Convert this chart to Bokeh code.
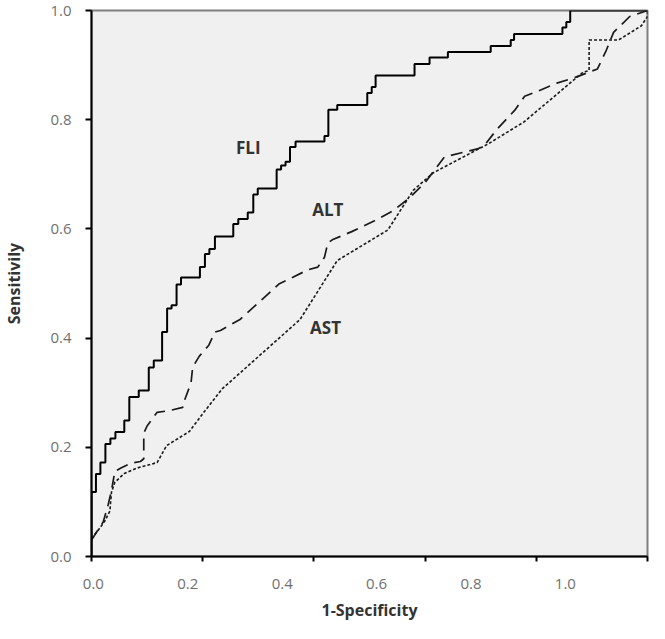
from bokeh.plotting import figure
from bokeh.models import LinearAxis, Range1d, FixedTicker, NumeralTickFormatter
from bokeh.core.properties import value
from bokeh.embed import file_html
from bokeh.resources import INLINE

# ---- data ----
fli_fpr = [0.000, 0.000, 0.008, 0.016, 0.025, 0.034, 0.043, 0.059, 0.068, 0.085, 0.103,
           0.112, 0.127, 0.136, 0.144, 0.153, 0.161, 0.195, 0.204, 0.212, 0.222, 0.255,
           0.264, 0.281, 0.291, 0.299, 0.333, 0.341, 0.349, 0.357, 0.367, 0.419, 0.426,
           0.442, 0.496, 0.504, 0.511, 0.581, 0.608, 0.641, 0.718, 0.754, 0.760, 0.847,
           0.854, 0.861, 1.000]
fli_tpr = [0.000, 0.118, 0.151, 0.172, 0.206, 0.216, 0.228, 0.249, 0.292, 0.304, 0.346,
           0.359, 0.411, 0.454, 0.460, 0.498, 0.511, 0.530, 0.554, 0.563, 0.586, 0.609,
           0.618, 0.630, 0.663, 0.674, 0.709, 0.716, 0.723, 0.750, 0.760, 0.770, 0.818,
           0.827, 0.849, 0.860, 0.881, 0.902, 0.914, 0.924, 0.935, 0.946, 0.957, 0.969,
           0.979, 1.000, 1.000]

alt_fpr = [0.000, 0.015, 0.021, 0.030, 0.036, 0.042, 0.053, 0.071, 0.088, 0.094, 0.094,
           0.100, 0.118, 0.139, 0.164, 0.168, 0.179, 0.182, 0.194, 0.211, 0.222, 0.232,
           0.267, 0.308, 0.337, 0.389, 0.407, 0.419, 0.425, 0.433, 0.468, 0.509, 0.542,
           0.571, 0.600, 0.635, 0.696, 0.709, 0.729, 0.761, 0.779, 0.802, 0.837, 0.869,
           0.910, 0.925, 0.939, 0.968, 1.000]
alt_tpr = [0.030, 0.054, 0.063, 0.095, 0.121, 0.156, 0.162, 0.171, 0.174, 0.179, 0.226,
           0.239, 0.264, 0.267, 0.273, 0.288, 0.318, 0.347, 0.367, 0.387, 0.411, 0.414,
           0.434, 0.472, 0.499, 0.525, 0.530, 0.548, 0.574, 0.580, 0.595, 0.615, 0.633,
           0.656, 0.685, 0.732, 0.747, 0.756, 0.782, 0.817, 0.843, 0.852, 0.867, 0.877,
           0.893, 0.925, 0.960, 0.989, 1.000]

ast_fpr = [0.000, 0.012, 0.024, 0.033, 0.036, 0.042, 0.059, 0.082, 0.118, 0.135, 0.176,
           0.202, 0.235, 0.375, 0.442, 0.533, 0.579, 0.615, 0.714, 0.778, 0.884, 0.895,
           0.895, 0.948, 0.989, 1.000, 1.000]
ast_tpr = [0.033, 0.048, 0.065, 0.083, 0.118, 0.136, 0.152, 0.162, 0.172, 0.203, 0.229,
           0.264, 0.307, 0.434, 0.542, 0.598, 0.671, 0.703, 0.756, 0.796, 0.887, 0.890,
           0.946, 0.946, 0.972, 0.989, 1.000]

curve_names = ["FLI", "ALT", "AST"]
name_x = [0.282, 0.425, 0.421]
name_y = [0.749, 0.635, 0.419]

tick_vals = [0.0, 0.2, 0.4, 0.6, 0.8, 1.0]

# ---- figure ----
p = figure(width=649, height=623,
           x_range=Range1d(0, 1), y_range=Range1d(0, 1),
           x_axis_location=None, y_axis_location="left",
           output_backend="svg", toolbar_location=None,
           min_border_left=85, min_border_right=2, min_border_top=10, min_border_bottom=10)
p.extra_x_ranges = {"lab": Range1d(-0.004, 1.174)}
p.background_fill_color = "#f0f0f0"
p.border_fill_color = "white"
p.outline_line_color = "#7f7f7f"
p.outline_line_width = 2
p.grid.visible = False

LABEL_FONT = "Open Sans"
TICK_COLOR = "#707070"
TITLE_COLOR = "#333333"

# y axis
ya = p.yaxis[0]
ya.ticker = FixedTicker(ticks=tick_vals)
ya.formatter = NumeralTickFormatter(format="0.0")
ya.axis_line_color = "black"
ya.axis_line_width = 2
ya.major_tick_line_color = "black"
ya.major_tick_line_width = 2
ya.major_tick_out = 6
ya.major_tick_in = 0
ya.minor_tick_line_color = None
ya.major_label_standoff = 14
ya.major_label_text_font = LABEL_FONT
ya.major_label_text_font_size = "15px"
ya.major_label_text_color = TICK_COLOR
ya.axis_label = "Sensitivily"
ya.axis_label_text_font = LABEL_FONT
ya.axis_label_text_font_size = "16px"
ya.axis_label_text_font_style = "bold"
ya.axis_label_text_color = TITLE_COLOR
ya.axis_label_standoff = 22

# x axis: tick marks (true scale)
xt = LinearAxis(ticker=FixedTicker(ticks=tick_vals),
                axis_line_color="black", axis_line_width=2,
                major_tick_line_color="black", major_tick_line_width=2,
                major_tick_out=5, major_tick_in=0,
                minor_tick_line_color=None,
                major_label_text_font_size="1px", major_label_text_alpha=0,
                major_label_standoff=0)
p.add_layout(xt, "below")

# x axis: tick labels (as printed in the original, compressed spacing)
xl = LinearAxis(x_range_name="lab", ticker=FixedTicker(ticks=tick_vals),
                formatter=NumeralTickFormatter(format="0.0"),
                axis_line_color=None, major_tick_line_color=None,
                major_tick_out=0, major_tick_in=0, minor_tick_line_color=None,
                major_label_standoff=17,
                major_label_text_font=LABEL_FONT, major_label_text_font_size="15px",
                major_label_text_color=TICK_COLOR,
                axis_label="1-Specificity", axis_label_text_font=LABEL_FONT,
                axis_label_text_font_size="16px", axis_label_text_font_style="bold",
                axis_label_text_color=TITLE_COLOR, axis_label_standoff=7)
p.add_layout(xl, "below")

# curves
p.step(fli_fpr, fli_tpr, mode="after", line_color="black", line_width=2)
p.line(alt_fpr, alt_tpr, line_color="#1a1a1a", line_width=1.7, line_dash="12 7")
p.line(ast_fpr, ast_tpr, line_color="#1a1a1a", line_width=1.6, line_dash="3 2")

p.text(x=name_x, y=name_y, text=curve_names,
       text_font=value(LABEL_FONT), text_font_size="17px", text_font_style="bold",
       text_color=TITLE_COLOR, text_align="center", text_baseline="middle")

open("out.html", "w").write(file_html(p, INLINE))
